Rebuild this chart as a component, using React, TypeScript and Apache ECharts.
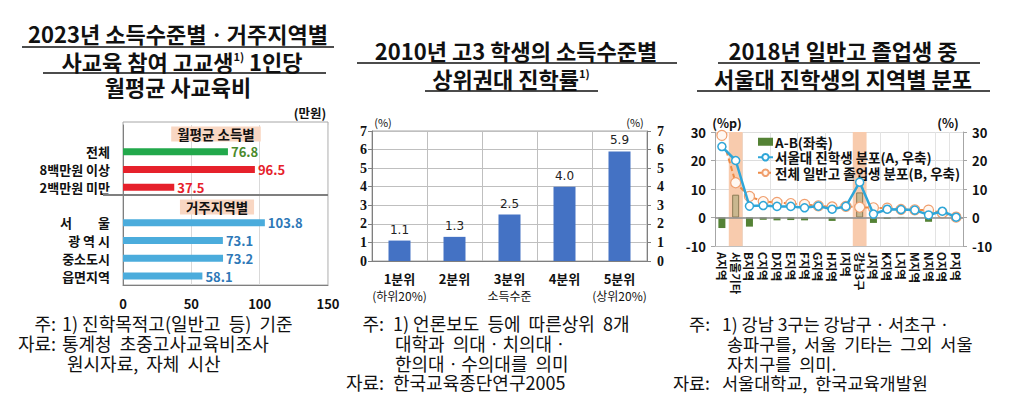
import React, { useEffect, useRef } from 'react';
import * as echarts from 'echarts';

const FONT = "'Noto Sans CJK KR', 'Noto Sans', sans-serif";

// panel 1: monthly private education spending (10k won)
const incomeGroups = ['전체', '8백만원 이상', '2백만원 미만'];
const incomeSpend = [76.8, 96.5, 37.5];
const incomeColors = ['#22A84B', '#E6212B', '#E6212B'];
const incomeLabelColors = ['#4A8A2C', '#E6212B', '#E6212B'];
const regionGroups = ['서　　울', '광 역 시', '중소도시', '읍면지역'];
const regionSpend = [103.8, 73.1, 73.2, 58.1];

// panel 2: top-university admission rate by income quintile (%)
const quintiles = ['1분위', '2분위', '3분위', '4분위', '5분위'];
const quintileNotes = ['(하위20%)', '', '소득수준', '', '(상위20%)'];
const topUnivRate = [1.1, 1.3, 2.5, 4.0, 5.9];

// panel 3: regional distribution of SNU entrants
const regions = ['A지역', '서울기타', 'B지역', 'C지역', 'D지역', 'E지역', 'F지역', 'G지역', 'H지역', 'I지역', '강남3구', 'J지역', 'K지역', 'L지역', 'M지역', 'N지역', 'O지역', 'P지역'];
const highlighted = ['서울기타', '강남3구'];
const snuShare = [24.9, 20.0, 4.0, 4.2, 3.9, 3.9, 3.4, 4.0, 2.9, 3.9, 12.4, 1.2, 2.9, 2.8, 2.6, 0.9, 2.2, 0.1];
const gradShare = [28.8, 12.2, 7.4, 5.6, 5.3, 4.9, 4.6, 4.1, 3.7, 3.9, 3.6, 3.4, 3.3, 2.8, 2.7, 2.6, 1.6, 0.1];
const shareGap = [-3.7, 8.0, -3.2, -0.8, -1.0, -0.9, -1.0, 0.0, -1.2, 0.0, 8.8, -1.9, -0.5, 0.2, 0.0, -1.5, 0.5, 0.0];

const HEAD1 = 'h1';
const HEAD2 = 'h2';
const p1Cats = [HEAD1, ...incomeGroups, HEAD2, ...regionGroups];
const p1Data = [
  null,
  ...incomeSpend.map((v, i) => ({
    value: v,
    itemStyle: { color: incomeColors[i] },
    label: { color: incomeLabelColors[i] },
  })),
  null,
  ...regionSpend.map((v) => ({
    value: v,
    itemStyle: { color: '#4BACDC' },
    label: { color: '#2E78B7' },
  })),
];

const title = (text: string, x: number, y: number) => ({
  type: 'text',
  x,
  y,
  z: 100,
  silent: true,
  style: {
    text,
    fill: '#111',
    fontSize: 22,
    fontWeight: 'bold',
    fontFamily: FONT,
    align: 'center',
    verticalAlign: 'middle',
    rich: {
      sup: { fontSize: 11, fontWeight: 'bold', fontFamily: FONT, verticalAlign: 'top', fill: '#111' },
    },
  },
});

const rule = (x1: number, x2: number, y: number, color = '#111', w = 1.5) => ({
  type: 'line',
  z: 100,
  silent: true,
  shape: { x1, y1: y, x2, y2: y },
  style: { stroke: color, lineWidth: w },
});

const note = (text: string, x: number, y: number, align = 'left', size = 18) => ({
  type: 'text',
  x,
  y,
  z: 100,
  silent: true,
  style: { text, fill: '#111', fontSize: size, lineHeight: 18, fontFamily: FONT, align, verticalAlign: 'middle' },
});

const small = (text: string, x: number, y: number, bold = true, align = 'center', bg?: string) => ({
  type: 'text',
  x,
  y,
  z: 100,
  silent: true,
  style: {
    text,
    fill: '#111',
    fontSize: bg ? 13.5 : bold ? 12.5 : 11,
    fontWeight: bold ? 'bold' : 'normal',
    fontFamily: FONT,
    align,
    verticalAlign: 'middle',
    backgroundColor: bg,
    padding: bg ? [0, 6, 0, 6] : 0,
    lineHeight: bg ? 15 : undefined,
  },
});

const boldLabel = { fontWeight: 'bold', color: '#111', fontFamily: FONT };

const option = {
  animation: false,
  textStyle: { fontFamily: FONT },
  grid: [
    { left: 123, top: 125, width: 205, height: 160 },
    { left: 372, top: 131, width: 275, height: 130, show: true, borderColor: '#A6A6A6', borderWidth: 1 },
    { left: 715, top: 132, width: 248, height: 114 },
  ],
  legend: {
    data: [
      { name: 'A-B(좌축)', icon: 'rect' },
      { name: '서울대 진학생 분포(A, 우축)' },
      { name: '전체 일반고 졸업생 분포(B, 우축)' },
    ],
    orient: 'vertical',
    left: 752,
    top: 130,
    itemGap: 2,
    itemWidth: 15,
    itemHeight: 8,
    textStyle: { fontWeight: 'bold', fontSize: 13.5, lineHeight: 13, color: '#111', fontFamily: FONT, padding: [0, 0, 0, -3] },
  },
  xAxis: [
    {
      gridIndex: 0,
      type: 'value',
      min: 0,
      max: 150,
      interval: 50,
      axisLine: { show: true, lineStyle: { color: '#7F7F7F' } },
      axisTick: { show: false },
      axisLabel: { ...boldLabel, fontSize: 13, margin: 12 },
      splitLine: { lineStyle: { color: '#D9D9D9' } },
    },
    {
      gridIndex: 1,
      type: 'category',
      data: quintiles,
      axisLine: { lineStyle: { color: '#7F7F7F' } },
      axisTick: { show: false },
      splitLine: { show: true, lineStyle: { color: '#BFBFBF' } },
      axisLabel: {
        interval: 0,
        margin: 9,
        formatter: (v: string, i: number) => `{b|${v}}\n{n|${quintileNotes[i] || ' '}}`,
        rich: {
          b: { fontWeight: 'bold', fontSize: 13, color: '#111', fontFamily: FONT, lineHeight: 17 },
          n: { fontSize: 12, color: '#111', fontFamily: FONT, lineHeight: 17 },
        },
      },
    },
    {
      gridIndex: 2,
      type: 'category',
      data: regions,
      axisLine: { onZero: false, lineStyle: { color: '#BFBFBF' } },
      axisTick: { show: false },
      splitLine: { show: true, interval: 1, lineStyle: { color: '#E3E3E3' } },
      axisLabel: { ...boldLabel, interval: 0, rotate: -90, fontSize: 11.5, margin: 6 },
    },
    { gridIndex: 2, type: 'category', data: regions, show: false },
  ],
  yAxis: [
    {
      gridIndex: 0,
      type: 'category',
      inverse: true,
      data: p1Cats,
      axisLine: { lineStyle: { color: '#7F7F7F' } },
      axisTick: { show: false },
      axisLabel: {
        ...boldLabel,
        fontSize: 13,
        margin: 13,
        interval: 0,
        formatter: (v: string) => (v === HEAD1 || v === HEAD2 ? '' : v),
      },
    },
    {
      gridIndex: 1,
      type: 'value',
      min: 0,
      max: 7,
      interval: 1,
      position: 'left',
      axisLine: { show: true, lineStyle: { color: '#7F7F7F' } },
      axisTick: { show: true, length: 4 },
      axisLabel: { fontWeight: 'bold', fontSize: 14, color: '#111', fontFamily: "'Liberation Serif', serif", margin: 5 },
      splitLine: { lineStyle: { color: '#BFBFBF' } },
    },
    {
      gridIndex: 1,
      type: 'value',
      min: 0,
      max: 7,
      interval: 1,
      position: 'right',
      axisLine: { show: true, lineStyle: { color: '#7F7F7F' } },
      axisTick: { show: true, length: 4 },
      axisLabel: { fontWeight: 'bold', fontSize: 14, color: '#111', fontFamily: "'Liberation Serif', serif", margin: 10 },
      splitLine: { show: false },
    },
    {
      gridIndex: 2,
      type: 'value',
      min: -10,
      max: 30,
      interval: 10,
      position: 'left',
      axisLine: { show: true, lineStyle: { color: '#A6A6A6' } },
      axisTick: { show: true, length: 4 },
      axisLabel: { ...boldLabel, fontSize: 13, margin: 9 },
      splitLine: { lineStyle: { color: '#DDDDDD' } },
    },
    {
      gridIndex: 2,
      type: 'value',
      min: -10,
      max: 30,
      interval: 10,
      position: 'right',
      axisLine: { show: true, lineStyle: { color: '#A6A6A6' } },
      axisTick: { show: true, length: 4 },
      axisLabel: { ...boldLabel, fontSize: 13, margin: 9 },
      splitLine: { show: false },
    },
  ],
  series: [
    {
      type: 'bar',
      xAxisIndex: 0,
      yAxisIndex: 0,
      barWidth: 7,
      data: p1Data,
      label: { show: true, position: 'right', distance: 3, fontWeight: 'bold', fontSize: 13, fontFamily: FONT },
    },
    {
      type: 'bar',
      xAxisIndex: 1,
      yAxisIndex: 1,
      barWidth: 22,
      data: topUnivRate,
      itemStyle: { color: '#4472C4' },
      label: {
        show: true,
        position: 'top',
        distance: 5,
        fontSize: 12,
        color: '#222',
        fontFamily: 'DejaVu Sans, sans-serif',
        formatter: (p: any) => p.value.toFixed(1),
      },
    },
    // highlight bands for 서울기타 / 강남3구
    {
      type: 'bar',
      xAxisIndex: 3,
      yAxisIndex: 3,
      stack: 'band',
      barWidth: '100%',
      silent: true,
      z: 1,
      itemStyle: { color: '#F8CBAD' },
      data: regions.map((r) => (highlighted.includes(r) ? 30 : null)),
    },
    {
      type: 'bar',
      xAxisIndex: 3,
      yAxisIndex: 3,
      stack: 'band',
      barWidth: '100%',
      silent: true,
      z: 1,
      itemStyle: { color: '#F8CBAD' },
      data: regions.map((r) => (highlighted.includes(r) ? -10 : null)),
    },
    {
      name: 'A-B(좌축)',
      type: 'bar',
      xAxisIndex: 2,
      yAxisIndex: 3,
      barWidth: 7,
      z: 3,
      itemStyle: { color: '#548235' },
      data: shareGap.map((v, i) =>
        highlighted.includes(regions[i])
          ? { value: v, itemStyle: { color: '#C9B78F', borderColor: '#8C7B55', borderWidth: 1 } }
          : v
      ),
      markLine: {
        silent: true,
        symbol: 'none',
        label: { show: false },
        lineStyle: { color: '#8C8C8C', width: 1.5, type: 'solid' },
        data: [{ yAxis: 0 }],
      },
    },
    {
      name: '전체 일반고 졸업생 분포(B, 우축)',
      type: 'line',
      xAxisIndex: 2,
      yAxisIndex: 4,
      z: 4,
      data: gradShare,
      symbol: 'circle',
      symbolSize: 10,
      lineStyle: { color: '#EE8A45', width: 2, type: [5, 3] },
      itemStyle: { color: '#FFF8F2', borderColor: '#F0A070', borderWidth: 1.2 },
    },
    {
      name: '서울대 진학생 분포(A, 우축)',
      type: 'line',
      xAxisIndex: 2,
      yAxisIndex: 4,
      z: 5,
      data: snuShare,
      symbol: 'circle',
      symbolSize: 8,
      lineStyle: { color: '#2EA6D8', width: 2.5 },
      itemStyle: { color: '#FFFFFF', borderColor: '#2EA6D8', borderWidth: 1.5 },
    },
  ],
  graphic: [
    // titles
    title('2023년 소득수준별ㆍ거주지역별', 178, 33),
    rule(22, 334, 47),
    title('사교육 참여 고교생{sup|1)} 1인당', 182, 61),
    rule(43, 326, 73),
    title('월평균 사교육비', 178, 86),
    title('2010년 고3 학생의 소득수준별', 516, 50),
    rule(357, 677, 63),
    title('상위권대 진학률{sup|1)}', 511, 78),
    rule(425, 598, 91),
    title('2018년 일반고 졸업생 중', 843, 50),
    rule(718, 980, 63),
    title('서울대 진학생의 지역별 분포', 843, 78),
    rule(697, 990, 91),
    // panel 1 frame and group headers
    {
      type: 'rect',
      z: 0,
      silent: true,
      shape: { x: 123, y: 122, width: 205, height: 163 },
      style: { fill: 'none', stroke: '#A6A6A6', lineWidth: 1 },
    },
    small('(만원)', 310, 112),
    small('월평균 소득별', 216, 134, true, 'center', '#F9D7C3'),
    small('거주지역별', 217, 207, true, 'center', '#F9D7C3'),
    rule(103, 328, 195, '#7F7F7F', 2),
    small('(%)', 383, 122, false, 'center'),
    small('(%)', 635, 122, false, 'center'),
    small('(%p)', 727, 122),
    small('(%)', 948, 122),
    // footnotes
    note('주:', 56, 323, 'right'),
    note('1) 진학목적고(일반고  등)  기준', 62, 323),
    note('자료:', 56, 343, 'right'),
    note('통계청  초중고사교육비조사', 62, 343),
    note('원시자료,  자체  시산', 67, 363),
    note('주:', 384, 323, 'right'),
    note('1) 언론보도  등에  따른상위  8개', 393, 323),
    note('대학과  의대ㆍ치의대ㆍ', 395, 343),
    note('한의대ㆍ수의대를  의미', 395, 363),
    note('자료:', 384, 382, 'right'),
    note('한국교육종단연구2005', 393, 382),
    note('주:', 710, 323, 'right', 17.5),
    note('1) 강남 3구는 강남구ㆍ서초구ㆍ', 722, 323, 'left', 17.5),
    note('송파구를,  서울  기타는  그외  서울', 727, 343, 'left', 17.5),
    note('자치구를  의미.', 727, 363, 'left', 17.5),
    note('자료:', 710, 382, 'right', 17.5),
    note('서울대학교,  한국교육개발원', 722, 382, 'left', 17.5),
  ],
};

export default function App() {
  const chartRef = useRef<HTMLDivElement>(null);

  useEffect(() => {
    document.body.style.margin = '0';
    const chart = echarts.init(chartRef.current, null, { renderer: 'svg' });
    chart.setOption(option as any);
    return () => {
      chart.dispose();
    };
  }, []);

  return <div ref={chartRef} style={{ width: '1020px', height: '416px', background: '#fff' }} />;
}
